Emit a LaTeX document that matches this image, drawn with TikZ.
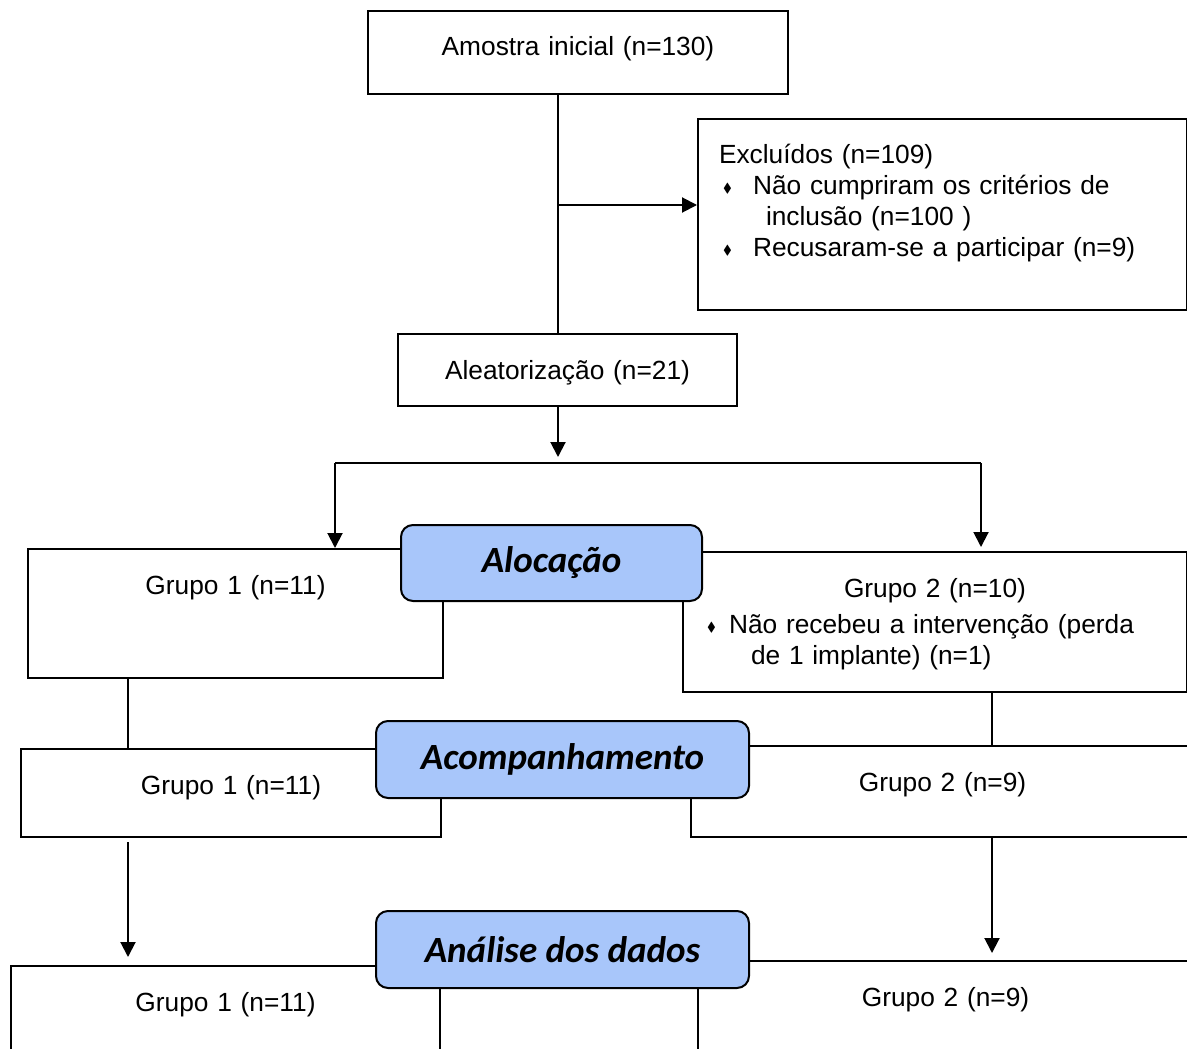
\documentclass[tikz,border=0pt]{standalone}
\usepackage{graphicx}
\usepackage{amssymb}
\usepackage{fontspec}
\setmainfont{Liberation Sans}
\newfontfamily\headfont{Carlito}
\usetikzlibrary{arrows.meta}

\definecolor{phaseblue}{RGB}{168,198,250}
\newcommand{\dmd}[1]{\makebox[#1][l]{\raisebox{1pt}{\scalebox{0.5}{$\blacklozenge$}}}}

\begin{document}
\begin{tikzpicture}[x=0.5pt, y=-0.5pt,
  box/.style={draw, line width=1pt, fill=white, inner xsep=0pt, inner ysep=0pt,
    anchor=north west, text height=22.5pt, align=center,
    font={\fontsize{13.15}{15.5}\selectfont}},
  phase/.style={draw, line width=1pt, rounded corners=6pt, fill=phaseblue,
    minimum width=186.5pt, minimum height=38.5pt, inner sep=0pt,
    font={\headfont\bfseries\itshape\fontsize{18.5}{22}\selectfont}},
  link/.style={line width=1pt},
  arr/.style={link, -{Triangle[length=7.5pt,width=7.5pt]}},
]
  \useasboundingbox (0,0) rectangle (1187,1048);
  \clip (0,0) rectangle (1187,1048);

  % --- top part ------------------------------------------------------
  \node[box, text width=210pt, text depth=19pt] (amostra) at (367,10) {Amostra inicial (n=130)};
  \node[box, inner xsep=10.5pt, text width=223.5pt, align=left, text depth=73pt] (excl) at (697,118) {%
    Excluídos (n=109)\\
    \hspace*{2pt}\dmd{15pt}Não cumpriram os critérios de\\
    \hspace*{23.5pt}inclusão (n=100 )\\
    \hspace*{2pt}\dmd{15pt}Recusaram-se a participar (n=9)};
  \node[box, text width=169.5pt, text depth=13.5pt] (aleat) at (397,333) {Aleatorização (n=21)};

  % --- groups --------------------------------------------------------
  \node[box, text width=207.5pt, text depth=42pt] (g1a) at (27,548) {Grupo 1 (n=11)};
  \node[box, inner xsep=12pt, text width=228pt, align=left, text depth=47.5pt] (g2a) at (682,551) {%
    \makebox[\linewidth]{Grupo 2 (n=10)}\\[2.5pt]
    \dmd{11pt}Não recebeu a intervenção (perda\\
    \hspace*{22pt}de 1 implante) (n=1)};
  \node[box, text width=210pt, text depth=21.5pt] (g1f) at (20,748) {Grupo 1 (n=11)};
  \node[box, text width=251.5pt, text depth=23pt] (g2f) at (690,745) {Grupo 2 (n=9)};
  \node[box, text width=214.5pt, text depth=42.5pt] (g1d) at (10,965) {Grupo 1 (n=11)};
  \node[box, text width=247.5pt, text depth=42.5pt] (g2d) at (697,960) {Grupo 2 (n=9)};

  % --- phase labels --------------------------------------------------
  \node[phase, minimum width=150.5pt, minimum height=38pt] (aloc) at (551.5,563) {Alocação};
  \node[phase] (acomp) at (562.5,759.5) {Acompanhamento};
  \node[phase] (anal) at (562.5,949.5) {Análise dos dados};

  % --- connectors ----------------------------------------------------
  \coordinate (spine) at (558,205);
  \coordinate (split) at (558,463);
  \coordinate (lsplit) at (335,463);
  \coordinate (rsplit) at (981,463);
  \coordinate (lcol) at (128,700);
  \coordinate (rcol) at (992,700);

  \draw[link] (amostra.south -| spine) -- (aleat.north -| spine);
  \draw[arr] (spine) -- (excl.west |- spine);
  \draw[arr] (aleat.south -| split) -- ([yshift=3pt]split);
  \draw[link] (lsplit) -- (rsplit);
  \draw[arr] (lsplit) -- (g1a.north -| lsplit);
  \draw[arr] (rsplit) -- ([yshift=2pt]g2a.north -| rsplit);
  \draw[link] (g1a.south -| lcol) -- (g1f.north -| lcol);
  \draw[link] (g2a.south -| rcol) -- (g2f.north -| rcol);
  \draw[arr, shorten <=2pt, shorten >=4pt] (g1f.south -| lcol) -- (g1d.north -| lcol);
  \draw[arr, shorten >=3.5pt] (g2f.south -| rcol) -- (g2d.north -| rcol);
\end{tikzpicture}
\end{document}
